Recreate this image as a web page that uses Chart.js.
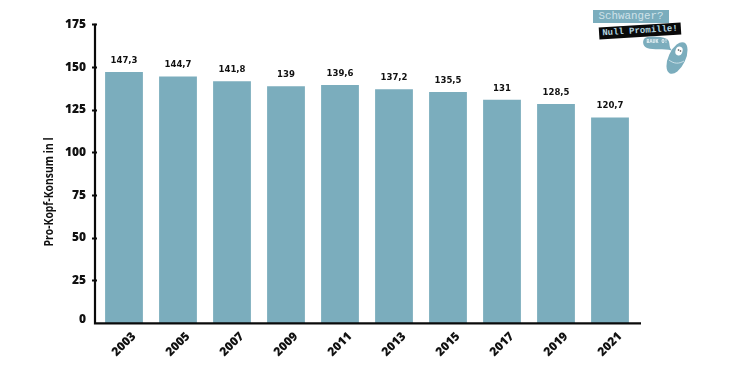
<!DOCTYPE html>
<html>
<head>
<meta charset="utf-8">
<style>
  html, body { margin: 0; padding: 0; background: #fff; }
  #wrap { position: relative; width: 731px; height: 365px; overflow: hidden; }
  .tag { position: absolute; font-family: "Liberation Mono", monospace; white-space: nowrap; }
  #t1 { left: 593px; top: 10px; width: 76px; height: 13px; line-height: 13px; background: #7badbd; color: #cfe2e9; font-size: 10.8px; text-align: center; }
  #t2 { left: 599px; top: 25px; width: 82px; height: 12px; line-height: 12px; background: #0a0a0a; color: #b4d6e0; font-size: 9px; font-weight: bold; text-align: center; transform: rotate(-3.5deg); }
  #t3 { left: 644px; top: 37px; width: 26px; height: 10px; line-height: 10px; color: #eef5f7; font-size: 5px; font-weight: bold; text-align: center; }
  #baby { position: absolute; left: 640px; top: 36px; }
</style>
</head>
<body>
<div id="wrap">
  <canvas id="myChart" width="731" height="365"></canvas>
  <div class="tag" id="t1">Schwanger?</div>
  <div class="tag" id="t2">Null Promille!</div>
  <svg id="baby" width="60" height="42" viewBox="0 0 60 42">
    <path d="M6 1.5 C2 3 2 10 7 12 C14 14.5 23 12 32 14.5 C28 11 31 6 27 3 C20 0 11 0 6 1.5 Z" fill="#7badbd"/>
    <ellipse cx="37" cy="22" rx="8.5" ry="17" transform="rotate(25 37 22)" fill="#7badbd"/>
    <ellipse cx="39" cy="15" rx="3.5" ry="4.5" transform="rotate(20 39 15)" fill="#fff"/>
    <circle cx="38.5" cy="14" r="0.8" fill="#444"/>
    <circle cx="40.5" cy="15" r="0.8" fill="#444"/>
    <path d="M29 24 C34 28 39 28 44 25" stroke="#dcebf0" stroke-width="0.8" fill="none"/>
  </svg>
  <div class="tag" id="t3">BAUK O!</div>
</div>
<script src="https://cdn.jsdelivr.net/npm/chart.js@4/dist/chart.umd.min.js"></script>
<script>
const years = ["2003", "2005", "2007", "2009", "2011", "2013", "2015", "2017", "2019", "2021"];
const consumption = [147.3, 144.7, 141.8, 139, 139.6, 137.2, 135.5, 131, 128.5, 120.7];
const yTicks = [0, 25, 50, 75, 100, 125, 150, 175];
const yTitle = "Pro-Kopf-Konsum in l";

const tickFont = "800 12px 'Open Sans'";

// value labels over the bars, with comma as decimal mark
const barLabels = {
  id: "barLabels",
  afterDatasetsDraw(chart) {
    const ctx = chart.ctx;
    ctx.save();
    ctx.font = "bold 9.5px 'DejaVu Sans Condensed'";
    ctx.fillStyle = "#111";
    ctx.textAlign = "center";
    ctx.textBaseline = "alphabetic";
    chart.getDatasetMeta(0).data.forEach((bar, i) => {
      ctx.fillText(String(consumption[i]).replace(".", ","), bar.x, bar.y - 9);
    });
    ctx.restore();
  },
};

// black axes, the zero label sitting a bit above the line, and the y title
const axisLines = {
  id: "axisLines",
  afterDraw(chart) {
    const a = chart.chartArea;
    const y = chart.scales.y;
    const ctx = chart.ctx;
    ctx.save();
    ctx.strokeStyle = "#0a0a0a";
    ctx.lineWidth = 2.2;
    ctx.beginPath();
    ctx.moveTo(a.left - 2, a.top - 1);
    ctx.lineTo(a.left - 2, a.bottom);
    ctx.lineTo(a.right + 4, a.bottom);
    ctx.stroke();

    ctx.fillStyle = "#111";
    ctx.font = tickFont;
    ctx.textAlign = "right";
    ctx.textBaseline = "middle";
    ctx.fillText("0", a.left - 11, y.getPixelForValue(0) - 3.5);

    // no narrow font installed, so squeeze Open Sans along the text direction
    ctx.translate(53, y.getPixelForValue(77));
    ctx.rotate(-Math.PI / 2);
    ctx.scale(0.83, 1);
    ctx.font = "bold 12.5px 'Open Sans'";
    ctx.textAlign = "center";
    ctx.textBaseline = "alphabetic";
    ctx.fillText(yTitle, 0, 0);
    ctx.restore();
  },
};

const config = {
  type: "bar",
  data: {
    labels: years,
    datasets: [
      {
        data: consumption,
        backgroundColor: "#7badbd",
        borderWidth: 0,
        barPercentage: 0.7,
        categoryPercentage: 1,
      },
    ],
  },
  options: {
    responsive: false,
    animation: false,
    layout: { padding: { top: 24.7, right: 94, bottom: 0, left: 0 } },
    plugins: { legend: { display: false }, tooltip: { enabled: false } },
    scales: {
      x: {
        grid: { display: false },
        border: { display: false },
        afterFit(scale) { scale.height = 41.6; },
        ticks: {
          color: "#111",
          font: { family: "'Open Sans'", weight: "800", size: 12 },
          maxRotation: 45,
          minRotation: 45,
          padding: -2,
          labelOffset: 10,
        },
      },
      y: {
        min: 0,
        max: 175,
        afterBuildTicks(scale) { scale.ticks = yTicks.map((v) => ({ value: v })); },
        afterFit(scale) { scale.width = 97; },
        grid: {
          drawOnChartArea: false,
          tickLength: 5,
          tickWidth: 2,
          tickColor: (c) => (c.tick.value === 0 ? "rgba(0,0,0,0)" : "#0a0a0a"),
        },
        border: { display: false },
        ticks: {
          color: "#111",
          font: { family: "'Open Sans'", weight: "800", size: 12 },
          padding: 6,
          callback: (v) => (v === 0 ? "" : v),
        },
      },
    },
  },
  plugins: [barLabels, axisLines],
};

const myChart = new Chart(document.getElementById("myChart"), config);
</script>
</body>
</html>
